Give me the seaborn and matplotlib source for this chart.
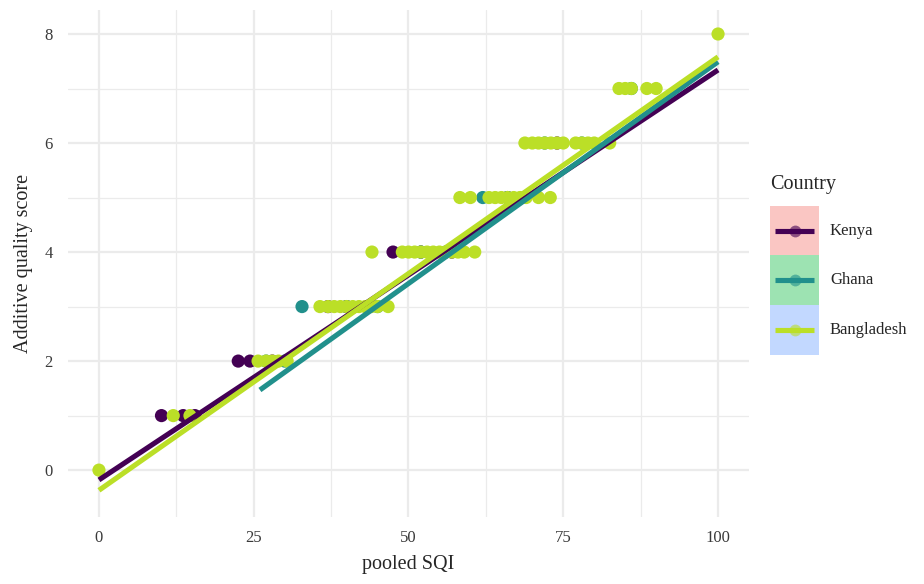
import numpy as np
import pandas as pd
import matplotlib
matplotlib.use("Agg")
import matplotlib.pyplot as plt
from matplotlib.patches import Rectangle
from matplotlib.lines import Line2D
import seaborn as sns

# ---------------- data ----------------
countries = ["Kenya", "Ghana", "Bangladesh"]
colors = ["#440154", "#21908C", "#BBDF27"]
key_fills = ["#FAC6C3", "#9DE3B2", "#C2D8FF"]

kenya_sqi = [10.1, 13.6, 15.5, 22.5, 24.4, 28, 37, 40, 47.5, 52, 57, 66, 74]
kenya_score = [1, 1, 1, 2, 2, 2, 3, 3, 4, 4, 4, 5, 6]

ghana_sqi = [27, 30, 32.8, 40, 45, 52, 56, 62, 66, 72, 78, 86]
ghana_score = [2, 2, 3, 3, 3, 4, 4, 5, 5, 6, 6, 7]

bangla_sqi = [0, 12, 14.7,
              25.7, 27, 28, 29, 30.4,
              35.7, 37, 38, 39, 40, 41, 42, 43, 44, 45, 46.7,
              44.1, 49, 50, 51, 52, 53, 54, 55, 56, 57, 58, 59, 60.7,
              58.3, 60, 63, 64, 65, 66, 67, 68, 69, 71, 72.9,
              68.8, 70, 71, 72, 73, 74, 75, 77, 78, 79, 80, 82.5,
              84, 85, 86, 88.5, 90,
              100]
bangla_score = [0, 1, 1,
                2, 2, 2, 2, 2,
                3, 3, 3, 3, 3, 3, 3, 3, 3, 3, 3,
                4, 4, 4, 4, 4, 4, 4, 4, 4, 4, 4, 4, 4,
                5, 5, 5, 5, 5, 5, 5, 5, 5, 5, 5,
                6, 6, 6, 6, 6, 6, 6, 6, 6, 6, 6, 6,
                7, 7, 7, 7, 7,
                8]

# fitted regression lines
fit_x = {"Kenya": [0, 100], "Ghana": [26, 100], "Bangladesh": [0, 100]}
fit_y = {"Kenya": [-0.18, 7.34], "Ghana": [1.47, 7.49], "Bangladesh": [-0.37, 7.58]}

# ---------------- frames ----------------
pts = pd.DataFrame({
    "sqi": kenya_sqi + ghana_sqi + bangla_sqi,
    "score": kenya_score + ghana_score + bangla_score,
    "Country": ["Kenya"] * len(kenya_sqi) + ["Ghana"] * len(ghana_sqi)
               + ["Bangladesh"] * len(bangla_sqi),
})
fits = pd.DataFrame({
    "sqi": sum([fit_x[c] for c in countries], []),
    "score": sum([fit_y[c] for c in countries], []),
    "Country": sum([[c] * len(fit_x[c]) for c in countries], []),
})
palette = dict(zip(countries, colors))

# ---------------- plot ----------------
sns.set_theme(style="white")
plt.rcParams["font.family"] = ["Liberation Serif", "DejaVu Serif"]

fig = plt.figure(figsize=(9.24, 5.84), dpi=100)
W, H = 924, 584
ax = fig.add_axes([68 / W, (H - 517) / H, (749 - 68) / W, (517 - 10) / H])

sns.scatterplot(data=pts, x="sqi", y="score", hue="Country", palette=palette,
                hue_order=countries, s=90, linewidth=0, legend=False, ax=ax,
                zorder=2)
for c in countries:
    sub = fits[fits["Country"] == c]
    sns.lineplot(data=sub, x="sqi", y="score", color=palette[c], lw=3.7,
                 legend=False, ax=ax, zorder=3, solid_capstyle="butt")

ax.set_xlim(-5, 105)
ax.set_ylim(-0.86, 8.44)
ax.set_xticks([0, 25, 50, 75, 100])
ax.set_yticks([0, 2, 4, 6, 8])
ax.set_xticks([12.5, 37.5, 62.5, 87.5], minor=True)
ax.set_yticks([1, 3, 5, 7], minor=True)
ax.grid(True, which="major", color="#EBEBEB", lw=1.6, zorder=0)
ax.grid(True, which="minor", color="#EBEBEB", lw=0.9, zorder=0)
ax.set_axisbelow(True)
for sp in ax.spines.values():
    sp.set_visible(False)
ax.tick_params(which="both", length=0)
ax.tick_params(axis="x", pad=9, labelsize=12, labelcolor="#3A3A3A")
ax.tick_params(axis="y", pad=11, labelsize=12, labelcolor="#3A3A3A")
ax.set_xlabel("pooled SQI", fontsize=14.5, labelpad=7)
ax.set_ylabel("Additive quality score", fontsize=14.5, labelpad=8)

# ---------------- legend (ggplot style) ----------------
fig.text(770 / W, 1 - 185 / H, "Country", fontsize=14.5, ha="left", va="center")
key_top = 206
key_h = 49.5
for i, c in enumerate(countries):
    y0 = key_top + i * key_h
    fig.patches.append(Rectangle((770 / W, 1 - (y0 + key_h) / H), 49 / W, key_h / H,
                                 transform=fig.transFigure, facecolor=key_fills[i],
                                 edgecolor="none"))
    yc = 1 - (y0 + key_h / 2) / H
    fig.lines.append(Line2D([795 / W], [yc], transform=fig.transFigure, marker="o",
                            markersize=8.5, markeredgewidth=0, color=colors[i],
                            alpha=0.6, linestyle="none"))
    fig.lines.append(Line2D([775 / W, 814 / W], [yc, yc], transform=fig.transFigure,
                            color=colors[i], lw=3.7, solid_capstyle="butt"))
    fig.text(830 / W, yc, c, fontsize=12, ha="left", va="center")

fig.savefig("out.png", dpi=100)
